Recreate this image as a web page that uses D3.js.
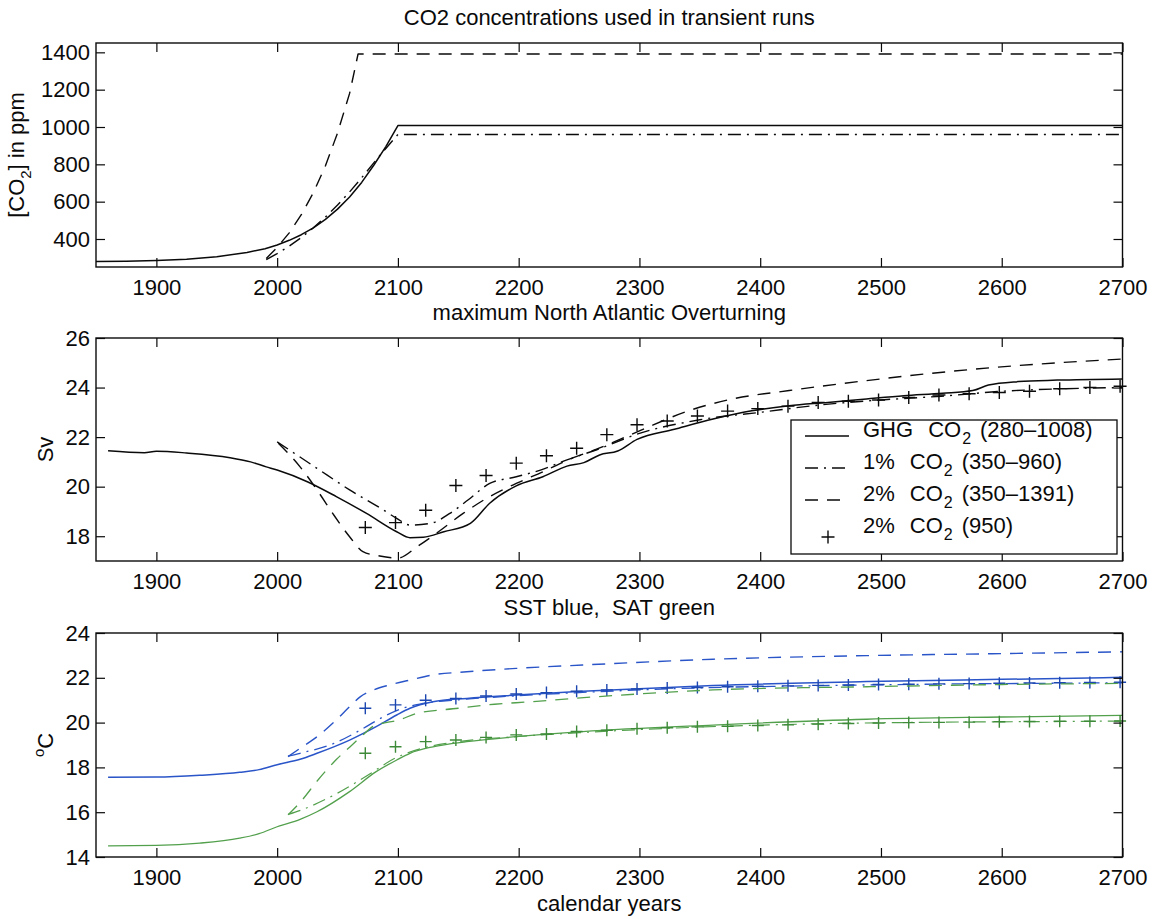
<!DOCTYPE html>
<html><head><meta charset="utf-8">
<script src="https://cdn.jsdelivr.net/npm/d3@7"></script>
<style>
body{margin:0;background:#fff}
svg text{font-family:"Liberation Sans",Arial,Helvetica,sans-serif;fill:#0a0a0a}
</style></head><body>
<svg id="chart" width="1159" height="919"></svg>
<script>
// ---------- DATA ----------
const xTicks = [1900,2000,2100,2200,2300,2400,2500,2600,2700];
const co2Ticks = [400,600,800,1000,1200,1400];
const svTicks = [18,20,22,24,26];
const tTicks = [14,16,18,20,22,24];

// Panel 1: CO2 (ppm)
const co2GhgYears = [1850,1875,1900,1925,1950,1975,1990,2000,2010,2020,2030,2040,2050,2060,2070,2080,2090,2100,2700];
const co2Ghg      = [280,281,285,292,305,328,348,368,393,423,460,505,560,625,703,795,895,1008,1008];
const co2P1Years  = [1991,2000,2010,2020,2030,2040,2050,2060,2070,2080,2090,2100,2700];
const co2P1       = [290,322,362,408,460,518,582,652,728,808,885,960,960];
const co2P2Years  = [1991,2000,2010,2020,2030,2040,2050,2060,2067,2700];
const co2P2       = [296,355,433,530,648,792,968,1180,1391,1391];

// Panel 2: maximum North Atlantic overturning (Sv)
const svGhgYears = [1860,1890,1900,1925,1961,1978,1991,2000,2025,2049,2074,2099,2110,2121,2138,2160,2176,2198,2220,2240,2254,2267,2282,2298,2329,2361,2393,2424,2456,2488,2519,2551,2576,2589,2614,2646,2700];
const svGhg      = [21.45,21.37,21.43,21.36,21.17,21.0,20.8,20.67,20.2,19.6,18.92,18.18,17.94,17.96,18.18,18.52,19.33,20.03,20.4,20.83,20.97,21.28,21.44,21.91,22.32,22.73,23.06,23.27,23.4,23.54,23.67,23.77,23.88,24.1,24.24,24.3,24.35];
const svP1Years  = [2000,2033,2060,2088,2099,2110,2127,2143,2158,2176,2198,2218,2240,2264,2300,2350,2400,2450,2500,2550,2600,2650,2700];
const svP1       = [21.81,20.74,19.87,19.06,18.72,18.45,18.52,18.92,19.46,20.13,20.4,20.67,21.08,21.48,22.15,22.7,23.0,23.3,23.5,23.65,23.85,23.95,24.0];
const svP2Years  = [2001,2019,2033,2046,2060,2071,2085,2100,2116,2132,2154,2176,2198,2220,2242,2264,2300,2340,2377,2424,2488,2551,2614,2700];
const svP2       = [21.75,20.8,19.87,18.92,17.98,17.38,17.2,17.12,17.58,18.12,18.92,19.6,20.13,20.6,21.1,21.5,22.25,23.05,23.54,23.88,24.28,24.62,24.89,25.15];
const plusYears  = [2073,2098,2123,2148,2173,2198,2223,2248,2273,2298,2323,2348,2373,2398,2423,2448,2473,2498,2523,2548,2573,2598,2623,2648,2673,2698];
const svPlus     = [18.35,18.55,19.05,20.05,20.45,20.95,21.25,21.55,22.1,22.5,22.65,22.85,23.05,23.15,23.25,23.4,23.45,23.5,23.6,23.7,23.75,23.8,23.85,23.95,24.0,24.05];

// Panel 3: SST (blue) and SAT (green), deg C
const tGhgYears = [1860,1900,1936,1969,1985,2000,2019,2033,2060,2082,2099,2110,2129,2157,2198,2253,2361,2488,2600,2700];
const sstGhg    = [17.56,17.57,17.65,17.78,17.9,18.12,18.36,18.63,19.22,19.82,20.34,20.64,20.93,21.08,21.23,21.4,21.66,21.83,21.93,22.02];
const satGhg    = [14.5,14.52,14.62,14.84,15.04,15.35,15.68,16.02,16.92,17.81,18.33,18.63,18.92,19.15,19.37,19.6,19.89,20.15,20.25,20.32];
const sstP2Years = [2009,2019,2033,2049,2060,2069,2080,2093,2110,2129,2157,2198,2253,2361,2488,2600,2700];
const sstP2      = [18.48,18.85,19.37,20.12,20.71,21.16,21.46,21.68,21.9,22.13,22.27,22.42,22.57,22.83,22.99,23.08,23.16];
const sstP1Years = [2009,2019,2047,2069,2088,2104,2121,2150,2200,2250,2350,2450,2550,2650,2700];
const sstP1      = [18.5,18.63,19.07,19.67,20.26,20.64,20.86,21.02,21.2,21.34,21.55,21.65,21.72,21.76,21.78];
const satP2Years = [2009,2020,2034,2049,2062,2070,2080,2090,2100,2115,2150,2180,2210,2245,2300,2361,2488,2600,2700];
const satP2      = [15.88,16.5,17.45,18.35,19.0,19.4,19.85,20.0,20.1,20.4,20.64,20.82,20.93,21.08,21.28,21.46,21.6,21.7,21.75];
const satP1Years = [2009,2020,2050,2075,2099,2120,2150,2200,2250,2350,2450,2550,2650,2700];
const satP1      = [15.9,16.1,16.85,17.65,18.45,18.85,19.15,19.38,19.55,19.8,19.95,20.02,20.05,20.07];
const sstPlus    = [20.64,20.79,21.0,21.08,21.19,21.28,21.34,21.4,21.46,21.5,21.54,21.57,21.6,21.62,21.64,21.66,21.68,21.7,21.71,21.73,21.74,21.76,21.77,21.78,21.79,21.8];
const satPlus    = [18.63,18.92,19.15,19.22,19.34,19.45,19.49,19.6,19.66,19.73,19.77,19.81,19.84,19.87,19.9,19.93,19.96,19.98,20.0,20.01,20.02,20.04,20.05,20.06,20.06,20.07];

const legendLabels = [
  ["GHG","CO","2","(280\u20131008)"],
  ["1%","CO","2","(350\u2013960)"],
  ["2%","CO","2","(350\u20131391)"],
  ["2%","CO","2","(950)"]
];

// ---------- DRAW ----------
const svg = d3.select("#chart");
const FS = 22;
const BLACK = "#0a0a0a", BLUE = "#2a55c8", GREEN = "#52a04c", BLUEP = "#1d47b0", GREENP = "#3d8a38";
const DASH = "13,9", DASHDOT = "13,6,2,6";
const x = d3.scaleLinear().domain([1850,2700]).range([96,1122.5]);
const X0 = 96, X1 = 1122.5;

function panel(top, bottom, domain, ticks, curve) {
  const y = d3.scaleLinear().domain(domain).range([bottom, top]);
  const g = svg.append("g");
  return {y, g, top, bottom, ticks, curve};
}
function drawLine(P, years, vals, color, dash, width) {
  const line = d3.line().x(d => x(d[0])).y(d => P.y(d[1])).curve(P.curve);
  P.g.append("path").datum(d3.zip(years, vals)).attr("d", line)
    .attr("fill","none").attr("stroke",color).attr("stroke-width",width||1.4)
    .attr("stroke-dasharray", dash||null).attr("stroke-linejoin","round");
}
function drawPlus(P, years, vals, color, size) {
  const s = size || 6.5;
  P.g.selectAll(null).data(d3.zip(years, vals)).enter().append("path")
    .attr("transform", d => `translate(${x(d[0])},${P.y(d[1])})`)
    .attr("d", `M${-s},0H${s}M0,${-s}V${s}`)
    .attr("stroke", color).attr("stroke-width", 1.4).attr("fill","none");
}
function drawFrame(P) {
  const g = P.g;
  const styleAxis = a => {
    a.select(".domain").remove();
    a.selectAll(".tick line").attr("stroke", BLACK).attr("stroke-width", 1.2);
    a.selectAll("text").attr("font-size", FS).attr("font-family", '"Liberation Sans",Arial,sans-serif').attr("fill", BLACK);
  };
  g.append("g").attr("transform",`translate(0,${P.bottom})`)
    .call(d3.axisBottom(x).tickValues(xTicks).tickSize(-9).tickPadding(12.5).tickFormat(d3.format("d"))).call(styleAxis);
  g.append("g").attr("transform",`translate(0,${P.top})`)
    .call(d3.axisTop(x).tickValues(xTicks).tickSize(-9).tickFormat("")).call(styleAxis);
  g.append("g").attr("transform",`translate(${X0},0)`)
    .call(d3.axisLeft(P.y).tickValues(P.ticks).tickSize(-9).tickPadding(6).tickFormat(d3.format("d"))).call(styleAxis);
  g.append("g").attr("transform",`translate(${X1},0)`)
    .call(d3.axisRight(P.y).tickValues(P.ticks).tickSize(-9).tickFormat("")).call(styleAxis);
  g.append("rect").attr("x", X0).attr("y", P.top).attr("width", X1 - X0).attr("height", P.bottom - P.top)
    .attr("fill","none").attr("stroke", BLACK).attr("stroke-width", 1.4);
}
function title(txt, yb) {
  svg.append("text").attr("x", (X0 + X1) / 2).attr("y", yb).attr("text-anchor","middle")
    .attr("font-size", FS).text(txt);
}

// Panel 1
const P1 = panel(43, 267, [250,1450], co2Ticks, d3.curveLinear);
drawLine(P1, co2GhgYears, co2Ghg, BLACK, null, 1.5);
drawLine(P1, co2P1Years, co2P1, BLACK, DASHDOT, 1.4);
drawLine(P1, co2P2Years, co2P2, BLACK, DASH, 1.4);
drawFrame(P1);
title("CO2 concentrations used in transient runs", 25);
{
  const t = svg.append("text").attr("transform","translate(24,155) rotate(-90)").attr("text-anchor","middle").attr("font-size", FS);
  t.append("tspan").text("[CO");
  t.append("tspan").attr("font-size", 15).attr("dy", 7).text("2");
  t.append("tspan").attr("dy", -7).text("] in ppm");
}

// Panel 2
const P2 = panel(338, 561, [17,26], svTicks, d3.curveMonotoneX);
drawLine(P2, svGhgYears, svGhg, BLACK, null, 1.5);
drawLine(P2, svP1Years, svP1, BLACK, DASHDOT, 1.4);
drawLine(P2, svP2Years, svP2, BLACK, DASH, 1.4);
drawPlus(P2, plusYears, svPlus, BLACK, 6.5);
drawFrame(P2);
title("maximum North Atlantic Overturning", 320);
svg.append("text").attr("transform","translate(53,449.5) rotate(-90)").attr("text-anchor","middle").attr("font-size", FS).text("Sv");

// legend
{
  const L = {x: 791, y: 420, w: 326, h: 134};
  const lg = svg.append("g");
  lg.append("rect").attr("x", L.x).attr("y", L.y).attr("width", L.w).attr("height", L.h)
    .attr("fill","#fff").attr("stroke", BLACK).attr("stroke-width", 1.3);
  const styles = [[null,"line"],[DASHDOT,"line"],[DASH,"line"],[null,"plus"]];
  const baselines = [437, 469, 501, 533];
  legendLabels.forEach((lab, i) => {
    const yb = baselines[i];
    if (styles[i][1] === "line") {
      lg.append("line").attr("x1", 805).attr("x2", 849).attr("y1", yb - 1).attr("y2", yb - 1)
        .attr("stroke", BLACK).attr("stroke-width", 1.4).attr("stroke-dasharray", styles[i][0]);
    } else {
      lg.append("path").attr("transform", `translate(828,${yb + 4})`).attr("d","M-6.5,0H6.5M0,-6.5V6.5")
        .attr("stroke", BLACK).attr("stroke-width", 1.4);
    }
    const t = lg.append("text").attr("x", 863).attr("y", yb).attr("font-size", FS);
    t.append("tspan").text(lab[0]);
    t.append("tspan").attr("dx", 15).text(lab[1]);
    t.append("tspan").attr("font-size", 16).attr("dy", 7).attr("dx", 1).text(lab[2]);
    t.append("tspan").attr("dy", -7).attr("dx", 9).text(lab[3]);
  });
}

// Panel 3
const P3 = panel(633, 857, [14,24], tTicks, d3.curveMonotoneX);
drawLine(P3, tGhgYears, sstGhg, BLUE, null, 1.5);
drawLine(P3, sstP1Years, sstP1, BLUE, DASHDOT, 1.3);
drawLine(P3, sstP2Years, sstP2, BLUE, DASH, 1.4);
drawPlus(P3, plusYears, sstPlus, BLUEP, 6);
drawLine(P3, tGhgYears, satGhg, GREEN, null, 1.3);
drawLine(P3, satP1Years, satP1, GREEN, DASHDOT, 1.2);
drawLine(P3, satP2Years, satP2, GREEN, DASH, 1.3);
drawPlus(P3, plusYears, satPlus, GREENP, 6);
drawFrame(P3);
title("SST blue,\u00a0\u00a0SAT green", 615);
svg.append("text").attr("x", (X0 + X1) / 2).attr("y", 911).attr("text-anchor","middle").attr("font-size", FS).text("calendar years");
{
  const t = svg.append("text").attr("transform","translate(53,745) rotate(-90)").attr("text-anchor","middle").attr("font-size", FS);
  t.append("tspan").attr("font-size", 15).attr("dy", -9).text("o");
  t.append("tspan").attr("dy", 9).text("C");
}
</script>
</body></html>
